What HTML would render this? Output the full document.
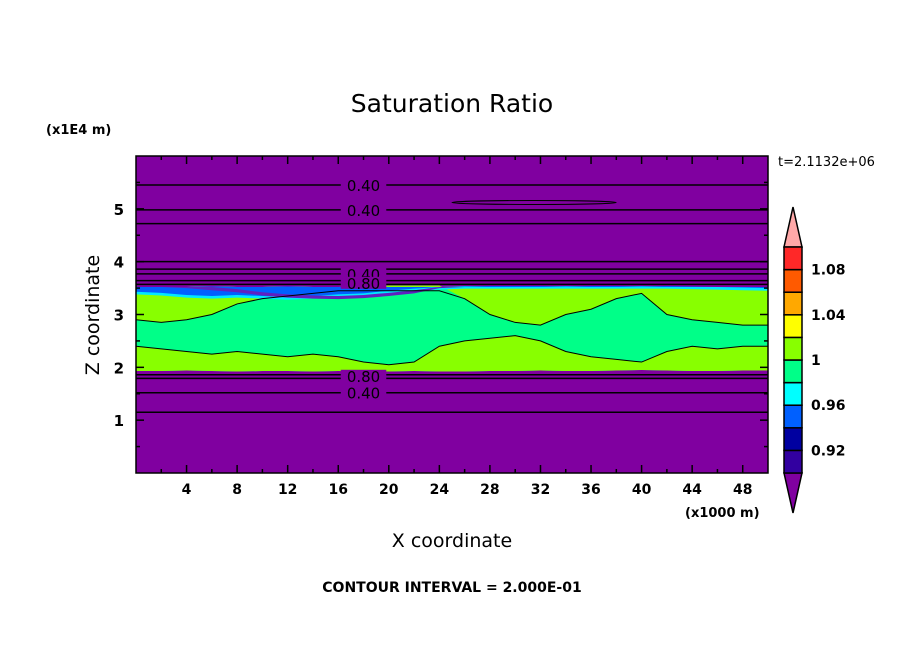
<!DOCTYPE html>
<html><head><meta charset="utf-8"><style>
body{margin:0;background:#fff;}
svg text{font-family:"DejaVu Sans","Liberation Sans",sans-serif;fill:#000;}
.b{font-weight:bold;}
</style></head><body>
<svg id="chart" width="904" height="654" viewBox="0 0 904 654" xmlns="http://www.w3.org/2000/svg">
<text x="452" y="112" font-size="25" text-anchor="middle">Saturation Ratio</text>
<text class="b" x="46" y="134" font-size="13">(x1E4 m)</text>
<text x="778" y="166" font-size="13">t=2.1132e+06</text>
<text transform="translate(99,315) rotate(-90)" font-size="19" text-anchor="middle">Z coordinate</text>
<text x="452" y="547" font-size="19" text-anchor="middle">X coordinate</text>
<text class="b" x="685" y="517" font-size="13">(x1000 m)</text>
<text class="b" x="452" y="592" font-size="14" text-anchor="middle">CONTOUR INTERVAL = 2.000E-01</text>
<g id="plot"></g>
<g id="cbar"></g>
</svg>
<script>
const xs=[0,2,4,6,8,10,12,14,16,18,20,22,24,26,28,30,32,34,36,38,40,42,44,46,48,50];
const layerBottom=[1.93,1.93,1.94,1.93,1.92,1.93,1.93,1.92,1.93,1.92,1.92,1.93,1.92,1.92,1.93,1.93,1.94,1.93,1.93,1.94,1.95,1.94,1.93,1.93,1.94,1.94];
const layerTop=[3.52,3.52,3.52,3.53,3.52,3.52,3.53,3.52,3.52,3.53,3.52,3.52,3.52,3.53,3.52,3.52,3.52,3.53,3.52,3.52,3.53,3.52,3.52,3.52,3.52,3.52];
const lowChartreuseTop=[2.4,2.35,2.3,2.25,2.3,2.25,2.2,2.25,2.2,2.1,2.05,2.1,2.4,2.5,2.55,2.6,2.5,2.3,2.2,2.15,2.1,2.3,2.4,2.35,2.4,2.4];
const upChartreuseBottom=[2.9,2.85,2.9,3.0,3.2,3.3,3.35,3.4,3.5,3.55,3.55,3.55,3.55,3.3,3.0,2.85,2.8,3.0,3.1,3.3,3.4,3.0,2.9,2.85,2.8,2.8];
const blueStreakBottom=[3.38,3.36,3.32,3.3,3.32,3.3,3.28,3.3,3.33,3.35,3.4,3.44,3.47,3.49,3.49,3.49,3.49,3.49,3.49,3.49,3.49,3.49,3.48,3.47,3.46,3.45];
const purpleStreakBottom=[3.52,3.52,3.5,3.46,3.42,3.36,3.32,3.3,3.29,3.31,3.35,3.4,3.5,3.52,3.52,3.52,3.52,3.52,3.52,3.52,3.52,3.52,3.52,3.52,3.52,3.52];
const contourLevels=[5.45,4.98,4.72,4.0,3.86,3.77,3.64,3.57,1.86,1.79,1.52,1.15];
const contourLabels=[{z:5.45,t:"0.40"},{z:4.98,t:"0.40"},{z:3.77,t:"0.40"},{z:3.6,t:"0.80"},{z:1.84,t:"0.80"},{z:1.52,t:"0.40"}];
const xTicks=[4,8,12,16,20,24,28,32,36,40,44,48];
const yTicks=[1,2,3,4,5];
const cbColors=["#3200a0","#0000a0","#0060ff","#00ffff","#00ff88","#88ff00","#ffff00","#ffa800","#ff5a00","#ff2828"];
const cbLabels=["0.92","0.96","1","1.04","1.08"];
const NS="http://www.w3.org/2000/svg";
const X0=136,X1=768,Y0=473,Y1=156;
const sx=x=>X0+(x-0)/(50-0)*(X1-X0);
const sy=z=>Y0-(z-0)/(6-0)*(Y0-Y1);
function mk(tag,attrs,parent){const e=document.createElementNS(NS,tag);for(const k in attrs)e.setAttribute(k,attrs[k]);parent.appendChild(e);return e;}
const plot=document.getElementById('plot');
let r=mk('rect',{x:X0,y:Y1,width:X1-X0,height:Y0-Y1,fill:'#8000a0'},plot);


function band(top,bot,color,name){
  let d='M'+xs.map((x,i)=>sx(x)+','+sy(top[i])).join(' L');
  for(let i=xs.length-1;i>=0;i--)d+=' L'+sx(xs[i])+','+sy(bot[i]);
  const p=mk('path',{d:d+'Z',fill:color},plot);
  
  
  return p;
}
band(layerTop,layerBottom,'#00ff88','green-band');
band(lowChartreuseTop,layerBottom,'#88ff00','lower-chartreuse-region');
band(layerTop,upChartreuseBottom,'#88ff00','upper-chartreuse-region');
band(layerTop,blueStreakBottom,'#00e8ff','cyan-streak');
band(layerTop,blueStreakBottom.map(v=>v+0.05),'#0060ff','blue-streak');
band(purpleStreakBottom.map(v=>Math.min(3.52,v+0.06)),purpleStreakBottom,'#6020c0','purple-streak');
const low=mk('polyline',{points:xs.map((x,i)=>sx(x)+','+sy(lowChartreuseTop[i])).join(' '),fill:'none',stroke:'#000','stroke-width':1},plot);


const up=mk('polyline',{points:xs.map((x,i)=>sx(x)+','+sy(Math.min(upChartreuseBottom[i],3.45))).join(' '),fill:'none',stroke:'#000','stroke-width':1},plot);


contourLevels.forEach(z=>{
  const l=mk('line',{x1:X0,x2:X1,y1:sy(z),y2:sy(z),stroke:'#000','stroke-width':1.5},plot);
  
  
});
const el=mk('ellipse',{cx:sx(31.5),cy:sy(5.12),rx:(sx(38)-sx(25))/2,ry:2,fill:'none',stroke:'#000','stroke-width':1},plot);


contourLabels.forEach(c=>{
  const bg=mk('rect',{x:sx(16.2),y:sy(c.z)-6,width:sx(19.8)-sx(16.2),height:12,fill:'#8000a0'},plot);
  
  
  const t=mk('text',{x:(sx(16)+sx(20))/2,y:sy(c.z)+6,'font-size':15,'text-anchor':'middle'},plot);
  t.textContent=c.t;
  
  
});
const fr=mk('rect',{x:X0,y:Y1,width:X1-X0,height:Y0-Y1,fill:'none',stroke:'#000','stroke-width':1.5},plot);


for(let x=2;x<50;x+=2){
  const len=x%4===0?8:4;
  [[Y0,-len],[Y1,len]].forEach(([y,d])=>{const t=mk('line',{x1:sx(x),x2:sx(x),y1:y,y2:y+d,stroke:'#000','stroke-width':1.5},plot);
  
  });
}
xTicks.forEach(x=>{
  const t=mk('text',{x:sx(x),y:Y0+21,'font-size':14,'text-anchor':'middle','font-weight':'bold'},plot);
  t.textContent=x;
  
  
});
for(let z=0.5;z<6;z+=0.5){
  const len=Number.isInteger(z)?8:4;
  [[X0,len],[X1,-len]].forEach(([x,d])=>{const t=mk('line',{x1:x,x2:x+d,y1:sy(z),y2:sy(z),stroke:'#000','stroke-width':1.5},plot);
  
  });
}
yTicks.forEach(z=>{
  const t=mk('text',{x:X0-12,y:sy(z)+6,'font-size':15,'text-anchor':'end','font-weight':'bold'},plot);
  t.textContent=z;
  
  
});
const cb=document.getElementById('cbar');
const CX0=784,CX1=802,CT=247,CB=473,h=(CB-CT)/cbColors.length;
const tri1=mk('polygon',{points:`${CX0},${CT} ${CX1},${CT} ${(CX0+CX1)/2},207`,fill:'#ffa8a8',stroke:'#000','stroke-width':1.5},cb);


const tri2=mk('polygon',{points:`${CX0},${CB} ${CX1},${CB} ${(CX0+CX1)/2},513`,fill:'#8000a0',stroke:'#000','stroke-width':1.5},cb);


cbColors.forEach((c,i)=>{
  const b=mk('rect',{x:CX0,y:CB-(i+1)*h,width:CX1-CX0,height:h,fill:c,stroke:'#000','stroke-width':1.5},cb);
  
  
});
cbLabels.forEach((l,i)=>{
  const t=mk('text',{x:811,y:CB-(2*i+1)*h+5,'font-size':14,'font-weight':'bold'},cb);
  t.textContent=l;
  
  
});
</script>
</body></html>
